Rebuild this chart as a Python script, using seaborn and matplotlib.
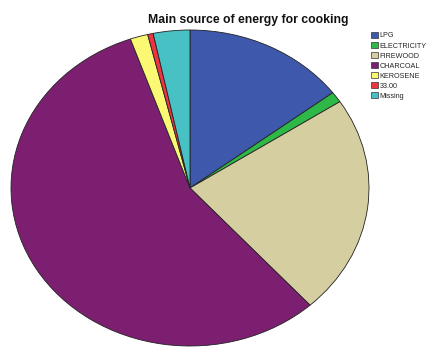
import matplotlib
matplotlib.use("Agg")
import matplotlib.pyplot as plt
import seaborn as sns
from matplotlib.patches import Patch

categories = ["LPG", "ELECTRICITY", "FIREWOOD", "CHARCOAL", "KEROSENE", "33.00", "Missing"]
percent = [14.7, 1.1, 22.5, 56.3, 1.6, 0.5, 3.3]
colors = ["#3E58AC", "#2EB848", "#D4CEA1", "#7C1F71", "#FBF873", "#EF3340", "#48C1C5"]
title = "Main source of energy for cooking"

sns.set_style("white")
plt.rcParams["font.family"] = ["Liberation Sans", "DejaVu Sans"]

W, H = 433, 347
fig = plt.figure(figsize=(W / 100, H / 100), dpi=100)
fig.patch.set_facecolor("white")

# pie area in pixels
x0, x1, y0, y1 = 11, 369, 30, 346
ax = fig.add_axes([x0 / W, 1 - y1 / H, (x1 - x0) / W, (y1 - y0) / H])
ax.pie(percent, colors=colors, startangle=90, counterclock=False,
       wedgeprops=dict(edgecolor="#222222", linewidth=0.6))
ax.set_aspect("auto")
ax.set_xlim(-1.0, 1.0)
ax.set_ylim(-1.0, 1.0)
ax.axis("off")

fig.text(248 / W, 1 - 20 / H, title, ha="center", va="center",
         fontsize=8.8, fontweight="bold", color="#111111")

handles = [Patch(facecolor=c, edgecolor="#333333", linewidth=0.5) for c in colors]
leg = fig.legend(handles, categories, loc="upper left",
                 bbox_to_anchor=(371 / W, 1 - 32 / H), frameon=False,
                 fontsize=5.2, handlelength=0.9, handleheight=0.9,
                 handletextpad=0.3, labelspacing=0.35, borderpad=0, borderaxespad=0)

fig.savefig("out.png", dpi=100, facecolor="white")
